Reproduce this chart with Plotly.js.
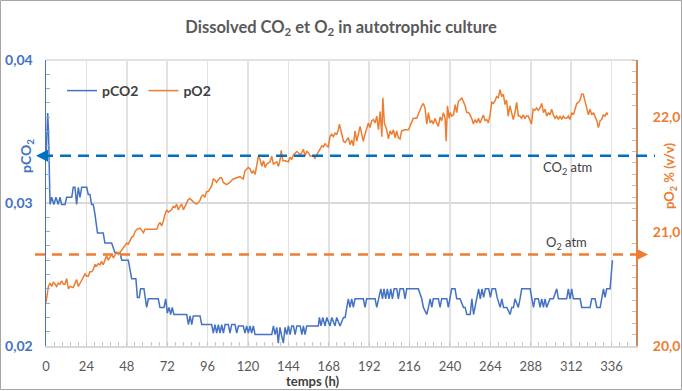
<!DOCTYPE html>
<html><head><meta charset="utf-8">
<script src="https://cdn.plot.ly/plotly-3.0.1.min.js"></script>
<style>html,body{margin:0;padding:0;background:#fff}#chart{width:682px;height:391px}</style>
</head><body><div id="chart"></div>
<script>
// ---------- DATA ----------
const pCO2Time = [
  0, 1, 1.5, 2.4, 3.4, 4.7, 5.9, 7.3, 8.3, 9.3,
  11.3, 12.3, 15.3, 16.2, 17.2, 18.2, 19.2, 20.2, 21.2, 24.2,
  25.1, 26.1, 27.1, 28.1, 29.1, 30.6, 34, 35, 39, 41,
  44, 45, 48.9, 49.9, 50.9, 53.4, 54.3, 55.4, 56.2, 58.2,
  59.8, 60.8, 66.7, 67.7, 70.1, 71.1, 72.1, 73.1, 74.1, 75,
  76, 83.6, 84.6, 85.6, 86.6, 87.5, 91.5, 92.5, 98.4, 99.4,
  100.4, 101.4, 102.4, 103.4, 104.4, 105.4, 106.4, 108.3, 109.3, 110.3,
  112.3, 113.3, 114.3, 117.2, 118.2, 119.2, 120.2, 121.2, 122.2, 123.2,
  124.2, 134.1, 135.1, 136.1, 137.1, 138, 139, 140, 141, 142,
  143, 144, 145, 146, 147, 148, 149, 151, 152, 152.9,
  153.9, 154.9, 161.8, 162.4, 163.4, 164.4, 165.8, 166.8, 168.7, 169.8,
  171.7, 172.7, 174.7, 176.7, 177.7, 178.7, 179.6, 180.6, 181.6, 182.6,
  183.6, 188.5, 189.5, 190.5, 195.5, 196.5, 197.5, 198.9, 199.9, 200.8,
  201.8, 202.8, 203.8, 204.8, 205.8, 206.8, 208.4, 209.3, 210.3, 212.3,
  213.3, 214.3, 221.2, 223.2, 224.2, 226.2, 227.2, 228.2, 229.2, 230.1,
  233.1, 234.1, 235.1, 238.1, 239, 240, 241, 243, 244, 246,
  248, 249, 250, 252, 253, 254, 256, 257, 258, 259,
  260, 261, 263, 264, 265, 267, 268, 269.8, 270.8, 271.8,
  273.8, 275.7, 276.7, 277.7, 278.6, 280.6, 281.6, 282.6, 287.6, 288.6,
  289.6, 290.5, 292.5, 293.5, 294.5, 295.5, 296.5, 297.4, 299.4, 301.4,
  303.4, 304.4, 309.3, 310.3, 311.3, 312.3, 313.3, 317.3, 318.3, 323.2,
  324.2, 326.2, 327.2, 329.2, 330.2, 331.2, 332.1, 333.1, 335.1, 336.5
];
const pCO2Values = [
  .0330, .0363, .0350, .0299, .0304, .0299, .0304, .0299, .0304, .0299,
  .0299, .0304, .0304, .0311, .0311, .0299, .0311, .0304, .0311, .0311,
  .0306, .0306, .0299, .0299, .0292, .0279, .0279, .0272, .0272, .0265,
  .0265, .0260, .0260, .0253, .0247, .0247, .0234, .0234, .0240, .0240,
  .0227, .0233, .0233, .0227, .0227, .0233, .0223, .0227, .0222, .0227,
  .0222, .0222, .0215, .0221, .0215, .0221, .0221, .0215, .0215, .0209,
  .0215, .0209, .0215, .0209, .0215, .0209, .0215, .0215, .0209, .0215,
  .0215, .0209, .0214, .0214, .0209, .0214, .0209, .0214, .0209, .0214,
  .0208, .0208, .0214, .0208, .0213, .0202, .0213, .0207, .0202, .0213,
  .0208, .0214, .0208, .0214, .0214, .0208, .0214, .0214, .0208, .0214,
  .0208, .0214, .0214, .0220, .0214, .0220, .0214, .0220, .0214, .0220,
  .0214, .0220, .0214, .0220, .0220, .0227, .0233, .0227, .0233, .0227,
  .0233, .0233, .0227, .0233, .0233, .0227, .0233, .0240, .0233, .0240,
  .0233, .0240, .0233, .0240, .0233, .0240, .0240, .0233, .0240, .0240,
  .0233, .0240, .0240, .0233, .0227, .0222, .0227, .0233, .0227, .0233,
  .0233, .0227, .0233, .0233, .0227, .0233, .0240, .0240, .0233, .0233,
  .0227, .0227, .0222, .0222, .0233, .0222, .0233, .0240, .0233, .0240,
  .0234, .0240, .0240, .0234, .0240, .0240, .0234, .0227, .0233, .0227,
  .0227, .0222, .0227, .0227, .0233, .0227, .0233, .0240, .0240, .0233,
  .0227, .0233, .0233, .0227, .0233, .0227, .0233, .0227, .0233, .0233,
  .0240, .0233, .0233, .0240, .0233, .0240, .0233, .0233, .0227, .0227,
  .0233, .0233, .0227, .0227, .0233, .0240, .0234, .0240, .0240, .0260
];
const pO2Time = [
  0, 1.4, 2.4, 3.4, 4.4, 5.3, 6.3, 7.3, 8.3, 9.3,
  10.3, 11.3, 12.3, 13.3, 14.3, 16.2, 17.2, 18.2, 19.2, 20.2,
  21.2, 23.2, 24.2, 25.1, 26.1, 27.1, 28.1, 29.1, 30.1, 31.1,
  32.1, 33, 34, 35, 36, 37, 38, 39, 40, 41,
  42, 43, 44, 45, 46, 47, 48, 48.9, 49.9, 50.9,
  51.9, 52.9, 53.9, 55.9, 57.9, 58.8, 61.8, 63.8, 65.8, 66.8,
  67.7, 68.7, 69.7, 70.7, 71.7, 72.7, 74.6, 75.6, 76.6, 77.6,
  78.6, 79.6, 80.6, 81.6, 83.5, 84.5, 85.5, 87.5, 89.5, 91.4,
  92.4, 93.4, 94.4, 95.4, 96.4, 97.4, 98.4, 99.4, 100.4, 101.3,
  103.3, 104.3, 105.3, 107.3, 109.2, 111.2, 113.2, 115.2, 116.2, 117.2,
  118.2, 120.2, 121.2, 122.2, 123.2, 124.2, 126.2, 127.2, 128.2, 129.2,
  130.2, 131.1, 133.1, 134.1, 135.1, 137.1, 138.1, 139.1, 139.7, 140.7,
  142, 144, 145, 146, 147, 148, 149, 149.9, 150.9, 151.9,
  152.9, 153.9, 154.9, 155.9, 156.9, 158.8, 159.8, 160.8, 161.8, 162.8,
  163.8, 164.8, 165.8, 166.7, 167.7, 168.7, 169.7, 170.7, 171.7, 172.7,
  173.7, 174.3, 175.6, 176.7, 177.7, 179.6, 180.6, 181.6, 182.6, 183.6,
  184.6, 185.6, 186.6, 187.6, 188.5, 189.5, 191.5, 192.5, 193.5, 194.5,
  195.5, 196.5, 197.5, 198.5, 199.5, 200.1, 201, 202.4, 203.4, 204.4,
  205.4, 206.4, 207.4, 208.3, 209.3, 210.3, 211.3, 213.3, 215.3, 216.2,
  217.2, 218.2, 220.2, 222.2, 223.2, 224.2, 225.2, 226.2, 227.2, 228.2,
  229.2, 230.1, 231.1, 232.1, 233.1, 234.1, 235.1, 236.1, 237.1, 237.7,
  238.5, 239.5, 240.1, 241.1, 242.1, 243.1, 244, 245, 246, 247,
  248, 249, 250, 251, 251.9, 252.9, 253.9, 254.9, 255.9, 256.9,
  257.9, 258.8, 259.8, 260.8, 261.8, 262.8, 263.8, 264.8, 265.8, 266.7,
  267.7, 268.7, 269.7, 270.7, 271.7, 272.7, 273.6, 274.6, 275.6, 276.6,
  277.6, 278.6, 279.6, 280.6, 281.5, 282.5, 283.5, 284.5, 285.5, 286.5,
  287.5, 288.4, 289.4, 290.4, 291.4, 292.4, 293.4, 294.5, 295.5, 296.5,
  297.5, 298.5, 299.4, 300.4, 301.4, 302.4, 303.4, 304.4, 305.4, 306.4,
  307.3, 308.3, 309.3, 310.3, 311.3, 312.3, 313.3, 314.3, 315.3, 316.3,
  317.3, 318.2, 319.2, 320.2, 321.2, 322.2, 323.2, 324.2, 325.2, 326.2,
  327.2, 328.2, 329.2, 330.1, 331.1, 332.1, 333.1, 333.7
];
const pO2Values = [
  20.38, 20.52, 20.55, 20.52, 20.56, 20.54, 20.52, 20.55, 20.54, 20.57,
  20.54, 20.54, 20.59, 20.50, 20.52, 20.51, 20.54, 20.58, 20.52, 20.55,
  20.58, 20.63, 20.61, 20.61, 20.65, 20.65, 20.67, 20.71, 20.70, 20.72,
  20.71, 20.74, 20.71, 20.75, 20.79, 20.75, 20.78, 20.80, 20.77, 20.80,
  20.82, 20.80, 20.82, 20.85, 20.87, 20.89, 20.90, 20.89, 20.92, 20.95,
  20.96, 21.00, 21.02, 21.03, 20.99, 21.02, 21.02, 21.02, 21.02, 21.06,
  21.08, 21.05, 21.09, 21.15, 21.19, 21.17, 21.19, 21.22, 21.21, 21.24,
  21.19, 21.22, 21.24, 21.19, 21.25, 21.28, 21.29, 21.26, 21.24, 21.27,
  21.31, 21.32, 21.30, 21.35, 21.35, 21.38, 21.40, 21.46, 21.45, 21.43,
  21.47, 21.47, 21.43, 21.41, 21.43, 21.46, 21.47, 21.48, 21.47, 21.46,
  21.53, 21.56, 21.55, 21.51, 21.53, 21.50, 21.66, 21.63, 21.57, 21.62,
  21.56, 21.59, 21.61, 21.66, 21.59, 21.61, 21.57, 21.63, 21.71, 21.62,
  21.62, 21.61, 21.65, 21.63, 21.67, 21.69, 21.70, 21.69, 21.67, 21.69,
  21.72, 21.66, 21.70, 21.69, 21.66, 21.66, 21.64, 21.67, 21.69, 21.72,
  21.75, 21.74, 21.77, 21.75, 21.74, 21.83, 21.85, 21.83, 21.86, 21.85,
  21.89, 21.94, 21.86, 21.79, 21.78, 21.82, 21.76, 21.80, 21.75, 21.88,
  21.79, 21.86, 21.92, 21.85, 21.79, 21.85, 21.95, 21.91, 21.97, 21.98,
  21.95, 22.01, 21.89, 22.05, 21.83, 22.17, 21.95, 21.89, 21.81, 21.88,
  21.85, 21.89, 21.82, 21.88, 21.82, 21.81, 21.88, 21.89, 21.89, 21.92,
  21.95, 21.99, 21.99, 22.07, 22.10, 22.12, 22.08, 21.94, 22.04, 21.95,
  21.97, 21.94, 21.99, 21.95, 21.92, 22.00, 21.97, 22.04, 21.99, 21.79,
  22.10, 21.99, 22.04, 22.01, 22.02, 22.11, 22.04, 22.14, 22.15, 22.17,
  22.14, 22.10, 22.04, 22.04, 22.02, 21.99, 21.94, 21.98, 21.95, 21.99,
  21.95, 21.98, 22.02, 21.97, 21.98, 21.95, 22.02, 22.13, 22.12, 22.14,
  22.18, 22.17, 22.24, 22.18, 22.20, 22.11, 22.15, 22.01, 22.10, 22.04,
  21.98, 22.04, 22.13, 22.01, 22.01, 21.99, 22.02, 21.99, 22.01, 22.01,
  21.98, 21.94, 22.07, 22.06, 22.08, 22.06, 22.08, 22.12, 22.04, 22.07,
  22.01, 22.04, 22.02, 22.07, 22.02, 21.99, 22.01, 21.98, 22.01, 21.98,
  22.01, 21.99, 21.99, 22.01, 21.98, 22.04, 22.02, 22.08, 22.12, 22.13,
  22.15, 22.20, 22.20, 22.14, 22.07, 22.02, 22.07, 22.02, 22.04, 22.01,
  21.97, 21.91, 21.97, 21.98, 22.02, 22.01, 22.04, 22.02
];
const co2Atm = 0.0333;   // reference level (left axis)
const o2Atm = 20.8;      // reference level (right axis)

// ---------- LAYOUT HELPERS ----------
const W = 682, H = 391, ML = 46, MR = 46, MT = 60, MB = 45;
const PW = W - ML - MR, PH = H - MT - MB;
const px = x => (x - ML) / PW;          // pixel -> paper x
const py = y => (H - MB - y) / PH;      // pixel -> paper y
const FONT = 'Lato, "Open Sans", sans-serif';
const BLUE = '#4472C4', ORANGE = '#ED7D31';

const traces = [
  {x: pCO2Time, y: pCO2Values, name: 'pCO2', type: 'scatter', mode: 'lines',
   yaxis: 'y', line: {color: BLUE, width: 1.5}},
  {x: pO2Time, y: pO2Values, name: 'pO2', type: 'scatter', mode: 'lines',
   yaxis: 'y2', line: {color: ORANGE, width: 1.5}}
];

const txt = (x, y, text, font, extra) => Object.assign({
  xref: 'paper', yref: 'paper', x: px(x), y: py(y), text: text, showarrow: false,
  xanchor: 'center', yanchor: 'middle', font: font}, extra || {});

const layout = {
  width: W, height: H,
  margin: {l: ML, r: MR, t: MT, b: MB, pad: 0},
  paper_bgcolor: '#ffffff', plot_bgcolor: '#ffffff',
  separators: ', ',
  font: {family: FONT, color: '#595959'},
  title: {text: 'Dissolved CO<sub>2</sub> et O<sub>2</sub> in autotrophic culture',
          font: {family: FONT, size: 16.5, color: '#595959', weight: 'bold'},
          x: 0.5, xanchor: 'center', y: 1 - 27 / H, yanchor: 'middle'},
  showlegend: true,
  legend: {orientation: 'h', x: px(62), y: py(75), xanchor: 'left', yanchor: 'top',
           bgcolor: 'rgba(0,0,0,0)', font: {family: FONT, size: 14, color: '#404040', weight: 'bold'}},
  xaxis: {range: [0, 350.5], tickmode: 'linear', tick0: 0, dtick: 24,
          showgrid: true, gridcolor: '#e2e2e2', gridwidth: 1.5, zeroline: false,
          showline: true, linecolor: '#d9d9d9', linewidth: 1.5,
          ticks: 'inside', ticklen: 4, tickcolor: '#c8c8c8', tickwidth: 1,
          minor: {tick0: 0, dtick: 4.8, ticks: 'inside', ticklen: 4, tickcolor: '#c8c8c8', showgrid: false},
          ticklabelstandoff: 8,
          tickfont: {family: FONT, size: 13, color: '#595959'}},
  yaxis: {range: [0.02, 0.04], tickmode: 'linear', tick0: 0.02, dtick: 0.01, tickformat: '.2f',
          showgrid: true, gridcolor: '#d9d9d9', gridwidth: 1.5, zeroline: false,
          showline: true, linecolor: BLUE, linewidth: 1.5, ticks: '',
          minor: {tick0: 0.02, dtick: 0.001, ticks: 'inside', ticklen: 4, tickcolor: '#8faadc', showgrid: false},
          ticklabelstandoff: 9,
          tickfont: {family: FONT, size: 14, color: BLUE, weight: 'bold'}},
  yaxis2: {overlaying: 'y', side: 'right', range: [20, 22.5], tickmode: 'linear', tick0: 20, dtick: 1,
           tickformat: '.1f', showgrid: false, zeroline: false,
           showline: true, linecolor: '#c98a5c', linewidth: 2, ticks: '',
           minor: {tick0: 20, dtick: 0.1, ticks: 'inside', ticklen: 4, tickcolor: '#f4b183', showgrid: false},
           ticklabelstandoff: 12,
           tickfont: {family: FONT, size: 14, color: ORANGE, weight: 'bold'}},
  shapes: [
    // chart border
    {type: 'rect', xref: 'paper', yref: 'paper', x0: px(0.5), x1: px(681.5), y0: py(389.5), y1: py(0.5),
     line: {color: '#a6a6a6', width: 1}, layer: 'above'},
    // top edge of plot area
    {type: 'line', xref: 'paper', yref: 'paper', x0: 0, x1: 1, y0: 1, y1: 1,
     line: {color: '#d9d9d9', width: 1.5}, layer: 'below'},
    // CO2 atm reference
    {type: 'line', xref: 'paper', yref: 'y', x0: px(42), x1: px(655), y0: co2Atm, y1: co2Atm,
     line: {color: '#0070C0', width: 2.5, dash: '11px,7px'}, layer: 'above'},
    // O2 atm reference
    {type: 'line', xref: 'paper', yref: 'y2', x0: px(35), x1: px(641), y0: o2Atm, y1: o2Atm,
     line: {color: ORANGE, width: 2.5, dash: '10px,7px'}, layer: 'above'}
  ],
  annotations: [
    {xref: 'paper', yref: 'y', x: px(36), y: co2Atm, ax: 9, ay: 0, axref: 'pixel', ayref: 'pixel',
     text: '', showarrow: true, arrowhead: 2, arrowsize: 1.2, arrowwidth: 2, arrowcolor: '#0070C0', standoff: 0},
    {xref: 'paper', yref: 'y2', x: px(648), y: o2Atm, ax: -9, ay: 0, axref: 'pixel', ayref: 'pixel',
     text: '', showarrow: true, arrowhead: 2, arrowsize: 1.2, arrowwidth: 2, arrowcolor: ORANGE, standoff: 0},
    txt(567, 168, 'CO<sub>2</sub> atm', {family: FONT, size: 13, color: '#404040'}),
    txt(566, 243, 'O<sub>2</sub> atm', {family: FONT, size: 13, color: '#404040'}),
    txt(26, 156, 'pCO<sub>2</sub>', {family: FONT, size: 14, color: BLUE, weight: 'bold'}, {textangle: -90}),
    txt(670, 176, 'pO<sub>2</sub> % (v/v)', {family: FONT, size: 13, color: ORANGE, weight: 'bold'}, {textangle: -90}),
    txt(313, 381, 'temps (h)', {family: FONT, size: 13, color: '#404040', weight: 'bold'})
  ]
};

Plotly.newPlot('chart', traces, layout, {staticPlot: true, displayModeBar: false});
</script>
</body></html>
